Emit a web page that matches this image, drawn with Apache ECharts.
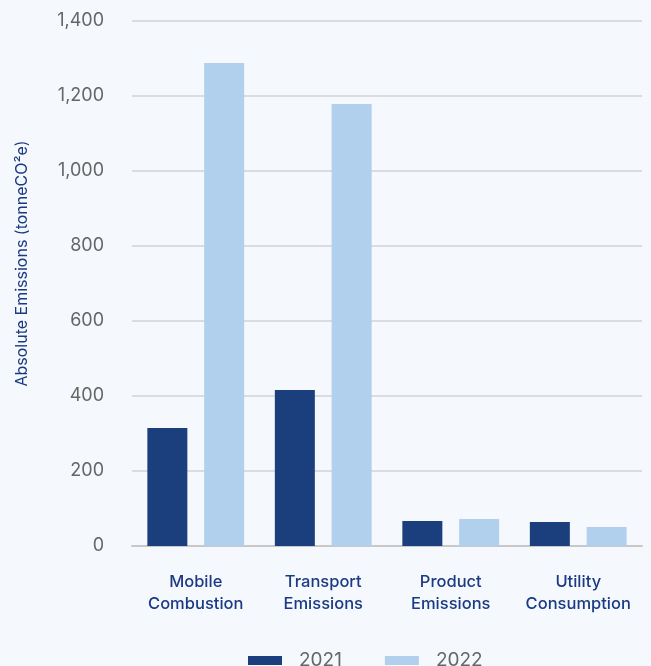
<!DOCTYPE html>
<html><head><meta charset="utf-8">
<script src="https://cdn.jsdelivr.net/npm/echarts@6/dist/echarts.min.js"></script>
<style>html,body{margin:0;padding:0;background:#f5f8fc;}#c{width:651px;height:666px;}</style>
</head><body><div id="c"></div>
<script>
const categories = ['Mobile\nCombustion', 'Transport\nEmissions', 'Product\nEmissions', 'Utility\nConsumption'];
const values2021 = [315, 416, 67, 64];
const values2022 = [1288, 1179, 72, 51];
const seriesNames = ['2021', '2022'];
const yTicks = [0, 200, 400, 600, 800, 1000, 1200, 1400];

const chart = echarts.init(document.getElementById('c'));
chart.setOption({
  backgroundColor: '#f5f8fc',
  animation: false,
  grid: { left: 132, right: 9, top: 21, bottom: 120, containLabel: false, outerBoundsMode: 'none' },
  legend: {
    data: seriesNames,
    top: 646, left: 243,
    itemWidth: 34, itemHeight: 9, itemGap: 43,
    icon: 'rect',
    textStyle: { color: '#666', fontSize: 19, fontFamily: 'Inter', padding: [0,0,0,12] }
  },
  xAxis: {
    type: 'category', data: categories,
    axisLine: { lineStyle: { color: '#c8c8c8', width: 2 } },
    axisTick: { show: false },
    axisLabel: { interval: 0, color: '#1b3a84', fontSize: 16.5, fontFamily: 'Inter', fontWeight: 500, lineHeight: 22, margin: 25 }
  },
  yAxis: {
    type: 'value', min: yTicks[0], max: yTicks[yTicks.length-1], interval: 200,
    name: 'Absolute Emissions (tonneCO²e)', nameLocation: 'middle', nameGap: 102,
    nameTextStyle: { color: '#1b3a84', fontSize: 16, fontFamily: 'Inter', padding: [0,0,0,40] },
    axisLine: { show: false }, axisTick: { show: false },
    axisLabel: { color: '#666', fontSize: 18, fontFamily: 'Inter', margin: 28,
      formatter: v => v.toLocaleString('en-US') },
    splitLine: { lineStyle: { color: '#d3d3d6', width: 1.5 } }
  },
  series: [
    { name: seriesNames[0], type: 'bar', data: values2021, barWidth: 40, barGap: '42%',
      itemStyle: { color: '#1a3f7c' } },
    { name: seriesNames[1], type: 'bar', data: values2022, barWidth: 40,
      itemStyle: { color: '#b0d0ee' } }
  ]
});
</script></body></html>
